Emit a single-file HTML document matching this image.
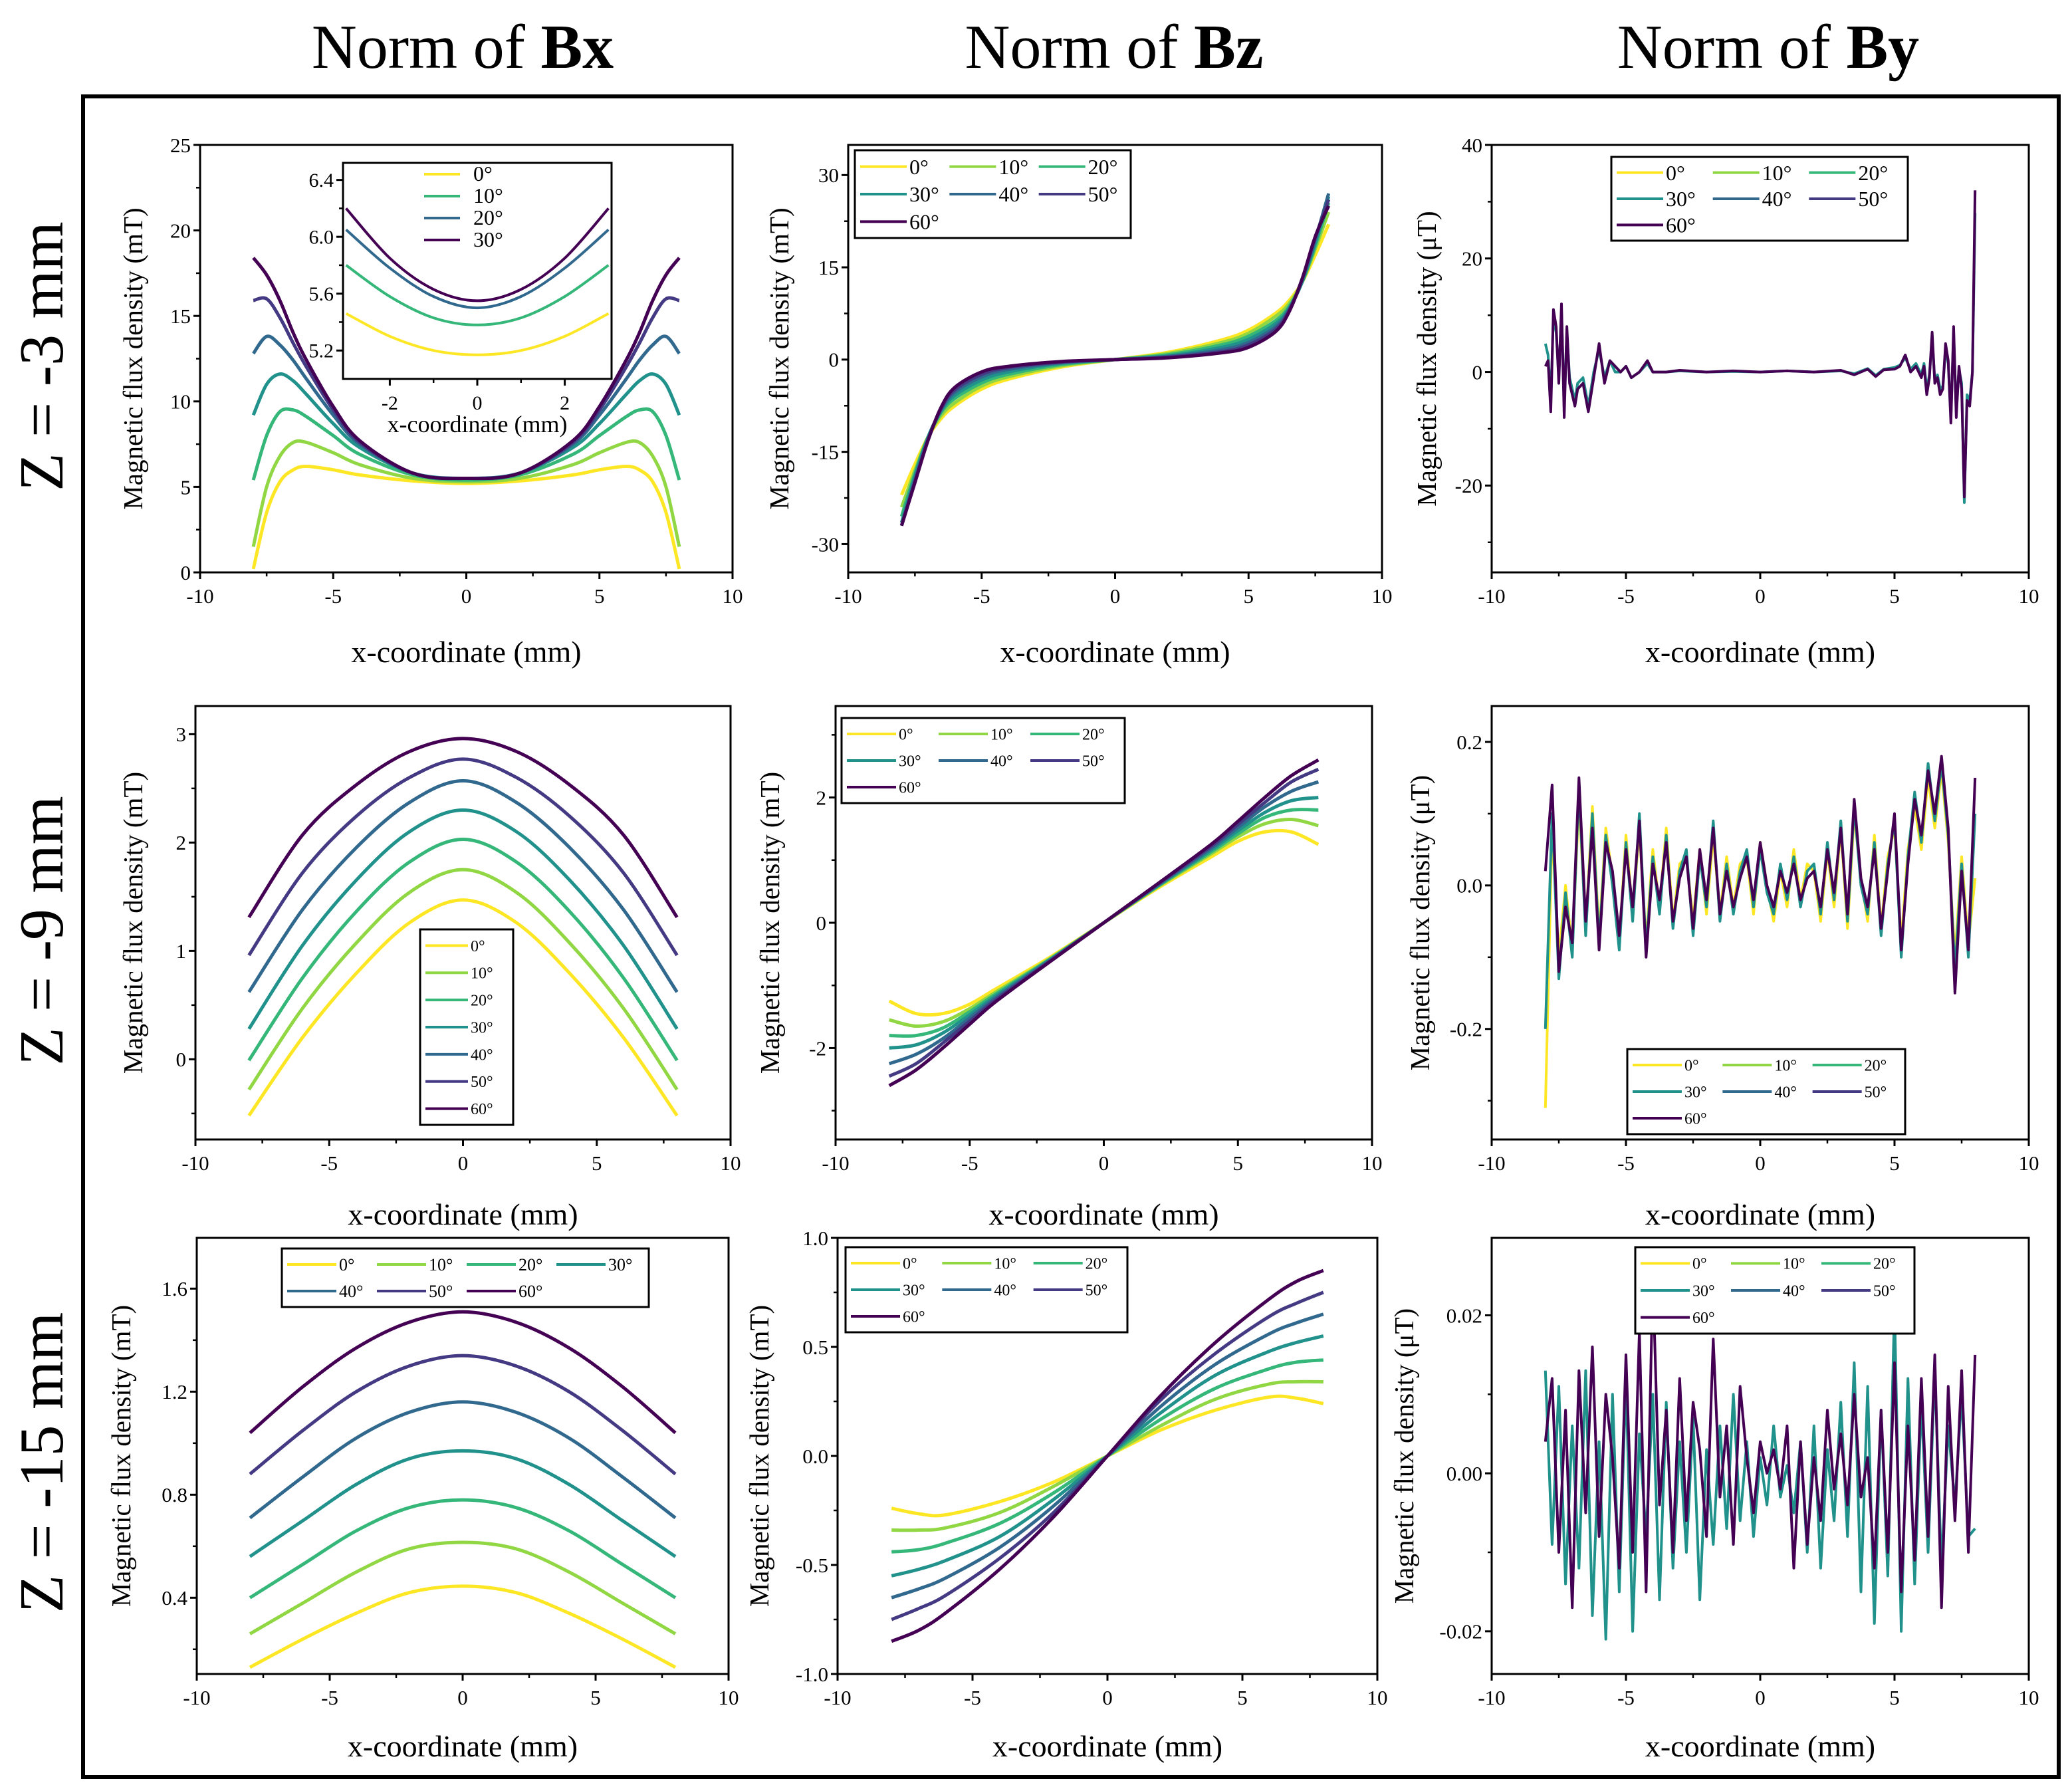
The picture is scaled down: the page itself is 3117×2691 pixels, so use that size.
<!DOCTYPE html>
<html><head><meta charset="utf-8"><style>
html,body{margin:0;padding:0;background:#fff;}
svg{display:block;}
text{font-family:"Liberation Serif",serif;fill:#000;}
</style></head><body>
<svg id="fig" xmlns="http://www.w3.org/2000/svg" width="3117" height="2691" viewBox="0 0 3117 2691">
<rect x="0" y="0" width="3117" height="2691" fill="#fff"/>
<text x="696" y="102" font-size="94" text-anchor="middle">Norm of <tspan font-weight="bold">Bx</tspan></text>
<text x="1676" y="102" font-size="94" text-anchor="middle">Norm of <tspan font-weight="bold">Bz</tspan></text>
<text x="2660" y="102" font-size="94" text-anchor="middle">Norm of <tspan font-weight="bold">By</tspan></text>
<rect x="125" y="145" width="2972" height="2528" fill="none" stroke="#000" stroke-width="6"/>
<text transform="translate(94,536) rotate(-90)" font-size="94" text-anchor="middle">Z = -3 mm</text>
<text transform="translate(94,1400) rotate(-90)" font-size="94" text-anchor="middle">Z = -9 mm</text>
<text transform="translate(94,2200) rotate(-90)" font-size="94" text-anchor="middle">Z = -15 mm</text>
<g id="plots"></g>
</svg>
<script>
const angles = ["0°","10°","20°","30°","40°","50°","60°"];
const colors = ["#fde725","#90d743","#35b779","#21918c","#31688e","#443983","#440154"];
const xTickVals = [-10,-5,0,5,10];

// Row 1, Bx
const bx1X = [-8,-7.5,-7,-6.5,-6,-5,-4,-2,0,2,4,5,6,6.5,7,7.5,8];
const bx1_0  = [0.2,3.5,5.3,6.0,6.2,6.0,5.7,5.35,5.2,5.35,5.7,6.0,6.2,6.0,5.3,3.5,0.2];
const bx1_10 = [1.5,5.0,6.8,7.6,7.6,7.0,6.3,5.5,5.3,5.5,6.3,7.0,7.6,7.6,6.8,5.0,1.5];
const bx1_20 = [5.4,8.0,9.4,9.5,9.1,8.0,6.9,5.7,5.4,5.7,6.9,8.0,9.1,9.5,9.4,8.0,5.4];
const bx1_30 = [9.2,11.0,11.6,11.2,10.4,8.7,7.3,5.8,5.5,5.8,7.3,8.7,10.4,11.2,11.6,11.0,9.2];
const bx1_40 = [12.8,13.8,13.3,12.4,11.3,9.2,7.5,5.8,5.5,5.8,7.5,9.2,11.3,12.4,13.3,13.8,12.8];
const bx1_50 = [15.9,16.0,14.9,13.4,12.0,9.5,7.6,5.8,5.5,5.8,7.6,9.5,12.0,13.4,14.9,16.0,15.9];
const bx1_60 = [18.4,17.4,15.9,14.0,12.4,9.7,7.7,5.8,5.5,5.8,7.7,9.7,12.4,14.0,15.9,17.4,18.4];
// inset
const insetX = [-3,-2,-1,0,1,2,3];
const inset_0  = [5.46,5.3,5.2,5.17,5.2,5.3,5.46];
const inset_10 = [5.8,5.58,5.43,5.38,5.43,5.58,5.8];
const inset_20 = [6.05,5.78,5.58,5.5,5.58,5.78,6.05];
const inset_30 = [6.2,5.85,5.63,5.55,5.63,5.85,6.2];
const insetLabels = ["0°","10°","20°","30°"];
const insetColors = ["#fde725","#35b779","#31688e","#440154"];

// Row 1, Bz
const bz1X = [-8,-7.5,-7,-6.5,-6,-5,-4,-2,0,2,4,5,6,6.5,7,7.5,8];
const bz1_0  = [-22,-17,-12.5,-9.5,-7.5,-4.8,-3.2,-1.2,0,1.2,3.2,4.8,7.5,9.5,12.5,17,22];
const bz1_10 = [-24,-18,-12.5,-9,-7,-4.3,-2.8,-1.0,0,1.0,2.8,4.3,7,9,12.5,18,24];
const bz1_20 = [-25.5,-18.5,-12.5,-8.5,-6.3,-3.8,-2.4,-0.8,0,0.8,2.4,3.8,6.3,8.5,12.5,18.5,25.5];
const bz1_30 = [-26.5,-19,-12.5,-8.2,-5.8,-3.3,-2.0,-0.6,0,0.6,2.0,3.3,5.8,8.2,12.5,19,26.5];
const bz1_40 = [-27,-19.5,-12.8,-8,-5.3,-2.8,-1.6,-0.5,0,0.5,1.6,2.8,5.3,8,12.8,19.5,27];
const bz1_50 = [-27,-19.8,-13,-7.8,-4.9,-2.4,-1.3,-0.4,0,0.4,1.3,2.4,4.9,7.8,13,19.8,26];
const bz1_60 = [-27,-20,-13,-7.6,-4.5,-2.0,-1.1,-0.3,0,0.3,1.1,2.0,4.5,7.6,13,20,25];

// Row 1, By (noise)
const by1X = [-8,-7.9,-7.8,-7.7,-7.6,-7.5,-7.4,-7.3,-7.2,-7.1,-7,-6.9,-6.8,-6.6,-6.4,-6.2,-6,-5.8,-5.6,-5.4,-5.2,-5,-4.8,-4.5,-4.2,-4,-3.5,-3,-2,-1,0,1,2,3,3.5,4,4.3,4.6,5,5.2,5.4,5.6,5.8,6,6.1,6.2,6.3,6.4,6.5,6.6,6.7,6.8,6.9,7,7.1,7.2,7.3,7.4,7.5,7.6,7.7,7.8,7.9,8];
const by1_60 = [1,2,-7,11,8,-2,12,-8,8,-2,-4,-6,-3,-2,-7,-1,5,-2,2,1,0,1,-1,0,2,0,0,0.3,0,0.2,0,0.2,0,0.3,-0.5,0.5,-0.8,0.4,0.5,1,3,0,1,-1,1,-4,-1,7,-2,-1,-4,-3,5,2,-9,8,-8,1,-3,-22,-5,-6,0,32];
const by1_30 = [5,3,-5,10,7,-1,11,-6,7,-1,-3,-5,-2,-1,-6,0,4,-1,2,0,0,1,-1,0,1.5,0,0,0.2,0,0.1,0,0.2,0,0.2,-0.3,0.6,-0.6,0.5,0.8,1.2,2.5,0.5,1.5,-0.5,1.5,-3,-0.5,6,-1.5,-0.5,-3,-2.5,4,1.5,-8,7,-7,0.5,-2,-23,-4,-5,0,28];

// Row 2, Bx
const bx2X = [-8,-6,-4,-2,0,2,4,6,8];
const bx2_0  = [-0.52,0.2,0.79,1.26,1.47,1.26,0.79,0.2,-0.52];
const bx2_10 = [-0.28,0.47,1.07,1.54,1.75,1.54,1.07,0.47,-0.28];
const bx2_20 = [-0.01,0.75,1.36,1.82,2.03,1.82,1.36,0.75,-0.01];
const bx2_30 = [0.28,1.05,1.65,2.1,2.3,2.1,1.65,1.05,0.28];
const bx2_40 = [0.62,1.38,1.95,2.37,2.57,2.37,1.95,1.38,0.62];
const bx2_50 = [0.96,1.72,2.24,2.6,2.77,2.6,2.24,1.72,0.96];
const bx2_60 = [1.31,2.07,2.53,2.84,2.96,2.84,2.53,2.07,1.31];

// Row 2, Bz
const bz2X = [-8,-7,-6,-5,-4,-2,0,2,4,5,6,7,8];
const bz2_0  = [-1.25,-1.45,-1.45,-1.3,-1.05,-0.55,0,0.55,1.05,1.3,1.45,1.45,1.25];
const bz2_10 = [-1.55,-1.65,-1.58,-1.37,-1.1,-0.57,0,0.57,1.1,1.37,1.58,1.65,1.55];
const bz2_20 = [-1.8,-1.8,-1.68,-1.42,-1.13,-0.58,0,0.58,1.13,1.42,1.68,1.8,1.8];
const bz2_30 = [-2.0,-1.95,-1.76,-1.47,-1.16,-0.59,0,0.59,1.16,1.47,1.76,1.95,2.0];
const bz2_40 = [-2.25,-2.1,-1.85,-1.52,-1.19,-0.6,0,0.6,1.19,1.52,1.85,2.1,2.25];
const bz2_50 = [-2.45,-2.25,-1.92,-1.57,-1.22,-0.61,0,0.61,1.22,1.57,1.92,2.25,2.45];
const bz2_60 = [-2.6,-2.35,-2.0,-1.62,-1.25,-0.62,0,0.62,1.25,1.62,2.0,2.35,2.6];

// Row 2, By (noise), x from -8 step 0.25
const by2_60 = [0.02,0.14,-0.12,-0.03,-0.08,0.15,-0.05,0.08,-0.09,0.06,0.02,-0.07,0.05,-0.03,0.09,-0.1,0.03,-0.02,0.06,-0.05,0.01,0.04,-0.06,0.05,-0.02,0.08,-0.04,0.02,-0.03,0.01,0.04,-0.02,0.06,0,-0.03,0.02,-0.01,0.03,-0.02,0.01,0.02,-0.03,0.05,-0.01,0.08,-0.04,0.12,0.01,-0.03,0.05,-0.06,0.02,0.1,-0.09,0.03,0.12,0.07,0.16,0.1,0.18,0.08,-0.15,0.02,-0.09,0.15];
const by2_30 = [-0.2,0.1,-0.13,-0.01,-0.1,0.14,-0.07,0.1,-0.08,0.07,0,-0.09,0.06,-0.05,0.1,-0.09,0.04,-0.04,0.07,-0.06,0.02,0.05,-0.07,0.04,-0.03,0.09,-0.05,0.03,-0.04,0.02,0.05,-0.03,0.05,-0.01,-0.04,0.03,-0.02,0.04,-0.03,0.02,0.03,-0.04,0.06,-0.02,0.09,-0.05,0.11,0,-0.04,0.06,-0.07,0.03,0.09,-0.1,0.04,0.13,0.06,0.17,0.09,0.17,0.07,-0.12,0.03,-0.1,0.1];
const by2_0  = [-0.31,0.08,-0.1,0,-0.09,0.12,-0.06,0.11,-0.07,0.08,0.01,-0.08,0.07,-0.04,0.08,-0.08,0.05,-0.03,0.08,-0.05,0.03,0.04,-0.05,0.05,-0.04,0.07,-0.04,0.04,-0.03,0.03,0.04,-0.04,0.06,0,-0.05,0.02,-0.03,0.05,-0.02,0.03,0.02,-0.05,0.05,-0.03,0.08,-0.06,0.1,0.01,-0.05,0.07,-0.06,0.04,0.08,-0.08,0.05,0.11,0.05,0.15,0.08,0.16,0.06,-0.1,0.04,-0.08,0.01];

// Row 3, Bx
const bx3X = [-8,-6,-4,-2,0,2,4,6,8];
const bx3_0  = [0.13,0.24,0.34,0.42,0.445,0.42,0.34,0.24,0.13];
const bx3_10 = [0.26,0.38,0.5,0.59,0.615,0.59,0.5,0.38,0.26];
const bx3_20 = [0.4,0.53,0.66,0.75,0.78,0.75,0.66,0.53,0.4];
const bx3_30 = [0.56,0.7,0.84,0.94,0.97,0.94,0.84,0.7,0.56];
const bx3_40 = [0.71,0.87,1.02,1.12,1.16,1.12,1.02,0.87,0.71];
const bx3_50 = [0.88,1.05,1.2,1.3,1.34,1.3,1.2,1.05,0.88];
const bx3_60 = [1.04,1.22,1.37,1.47,1.51,1.47,1.37,1.22,1.04];

// Row 3, Bz
const bz3X = [-8,-7,-6,-4,-2,0,2,4,6,7,8];
const bz3_0  = [-0.24,-0.265,-0.27,-0.21,-0.12,0,0.12,0.21,0.27,0.265,0.24];
const bz3_10 = [-0.34,-0.34,-0.33,-0.26,-0.14,0,0.14,0.26,0.33,0.34,0.34];
const bz3_20 = [-0.44,-0.43,-0.4,-0.31,-0.17,0,0.17,0.31,0.4,0.43,0.44];
const bz3_30 = [-0.55,-0.52,-0.48,-0.37,-0.2,0,0.2,0.37,0.48,0.52,0.55];
const bz3_40 = [-0.65,-0.61,-0.56,-0.42,-0.23,0,0.23,0.42,0.56,0.61,0.65];
const bz3_50 = [-0.75,-0.7,-0.64,-0.47,-0.26,0,0.26,0.47,0.64,0.7,0.75];
const bz3_60 = [-0.85,-0.8,-0.72,-0.52,-0.28,0,0.28,0.52,0.72,0.8,0.85];

// Row 3, By (noise), x from -8 step 0.25
const by3_60 = [0.004,0.012,-0.01,0.008,-0.017,0.013,-0.005,0.016,-0.008,0.01,0.002,-0.012,0.015,-0.01,0.018,-0.015,0.025,-0.004,0.008,-0.01,0.012,-0.006,0.009,0.003,-0.008,0.017,-0.003,0.006,-0.009,0.011,0.002,-0.005,0.004,0,0.003,-0.002,0.006,-0.012,0.004,-0.009,0.002,-0.006,0.008,-0.002,0.005,-0.004,0.01,-0.003,0.002,-0.012,0.008,-0.01,0.014,-0.015,0.006,-0.011,0.012,-0.008,0.015,-0.017,0.011,-0.006,0.013,-0.01,0.015];
const by3_30 = [0.013,-0.009,0.011,-0.014,0.006,-0.012,0.013,-0.018,0.004,-0.021,0.01,-0.015,0.012,-0.02,0.005,-0.008,0.01,-0.016,0.009,-0.012,0.004,-0.01,0.007,-0.016,0.003,-0.009,0.006,-0.007,0.01,-0.006,0.004,-0.008,0.002,-0.004,0.006,-0.003,0.001,-0.005,0.004,-0.01,0.006,-0.012,0.003,-0.006,0.009,-0.008,0.014,-0.015,0.011,-0.019,0.008,-0.013,0.021,-0.02,0.012,-0.014,0.009,-0.01,0.013,-0.012,0.006,-0.004,0.01,-0.008,-0.007];

const NS = "http://www.w3.org/2000/svg";
const root = document.getElementById('plots');
function mk(tag, attrs, parent){
  const e = document.createElementNS(NS, tag);
  for (const k in attrs) e.setAttribute(k, attrs[k]);
  (parent||root).appendChild(e);
  return e;
}
function smoothPath(pts){
  let d = "M" + pts[0][0].toFixed(1) + "," + pts[0][1].toFixed(1);
  for (let i=0;i<pts.length-1;i++){
    const p0 = pts[i-1]||pts[i], p1 = pts[i], p2 = pts[i+1], p3 = pts[i+2]||pts[i+1];
    const c1x = p1[0]+(p2[0]-p0[0])/6, c1y = p1[1]+(p2[1]-p0[1])/6;
    const c2x = p2[0]-(p3[0]-p1[0])/6, c2y = p2[1]-(p3[1]-p1[1])/6;
    d += " C"+c1x.toFixed(1)+","+c1y.toFixed(1)+" "+c2x.toFixed(1)+","+c2y.toFixed(1)+" "+p2[0].toFixed(1)+","+p2[1].toFixed(1);
  }
  return d;
}
function noiseX(n){ const a=[]; for(let i=0;i<n;i++) a.push(-8+0.25*i); return a; }

function panel(p){
  const g = mk('g', {});
  
  
  const sx = v => p.L + (v - p.xmin)/(p.xmax - p.xmin)*(p.R - p.L);
  const sy = v => p.B - (v - p.ymin)/(p.ymax - p.ymin)*(p.B - p.T);
  p.series.forEach((s, i) => {
    const pts = s.x.map((xv, j) => [sx(xv), sy(s.y[j])]);
    const path = mk('path', {d: p.smooth ? smoothPath(pts) : "M" + pts.map(q=>q[0].toFixed(1)+","+q[1].toFixed(1)).join(" L"), fill:'none', stroke:s.c, 'stroke-width': p.lw||5, 'stroke-linejoin':'round'}, g);
    
    
  });
  const fr = mk('rect', {x:p.L, y:p.T, width:p.R-p.L, height:p.B-p.T, fill:'none', stroke:'#000', 'stroke-width':3}, g);
  
  
  const fs = p.fs || 31;
  const xt = p.xticks || xTickVals;
  for (let k=0;k<xt.length;k++){
    const X = sx(xt[k]);
    mk('line', {x1:X, y1:p.B, x2:X, y2:p.B+10, stroke:'#000','stroke-width':3}, g);
    const t = mk('text', {x:X, y:p.B+46, 'font-size':fs, 'text-anchor':'middle'}, g);
    t.textContent = xt[k];
    
    
    if (k < xt.length-1){
      const m = sx((xt[k]+xt[k+1])/2);
      mk('line', {x1:m, y1:p.B, x2:m, y2:p.B+6, stroke:'#000','stroke-width':2.5}, g);
    }
  }
  const yt = p.yticks;
  for (let k=0;k<yt.length;k++){
    const Y = sy(yt[k]);
    mk('line', {x1:p.L-10, y1:Y, x2:p.L, y2:Y, stroke:'#000','stroke-width':3}, g);
    const t = mk('text', {x:p.L-14, y:Y+fs*0.35, 'font-size':fs, 'text-anchor':'end'}, g);
    t.textContent = p.ylabels[k];
    
    
  }
  (p.yminor||[]).forEach(v => {
    const Y = sy(v);
    if (Y>=p.T-1 && Y<=p.B+1) mk('line', {x1:p.L-6, y1:Y, x2:p.L, y2:Y, stroke:'#000','stroke-width':2.5}, g);
  });
  if (p.xtitle){
    const t = mk('text', {x:(p.L+p.R)/2, y:p.xtitleY, 'font-size':p.xtfs||46, 'text-anchor':'middle'}, g);
    t.textContent = p.xtitle;
    
    
  }
  if (p.ytitle){
    const t = mk('text', {transform:'translate('+p.ytitleX+','+(p.T+p.B)/2+') rotate(-90)', 'font-size':41, 'text-anchor':'middle'}, g);
    t.textContent = p.ytitle;
    
    
  }
  return g;
}
function legend(name, box, labels, cols, ncol, fs, lineLen){
  const g = mk('g', {});
  
  
  mk('rect', {x:box[0], y:box[1], width:box[2], height:box[3], fill:'#fff', stroke:'#000', 'stroke-width':3}, g);
  const nrow = Math.ceil(labels.length/ncol);
  const cw = (box[2]-12)/ncol, rh = (box[3]-8)/nrow;
  labels.forEach((lab, i) => {
    const c = i % ncol, rr = Math.floor(i/ncol);
    const x0 = box[0]+8+c*cw, yc = box[1]+4+rh*(rr+0.5);
    mk('line', {x1:x0, y1:yc, x2:x0+lineLen, y2:yc, stroke:cols[i], 'stroke-width':4}, g);
    const t = mk('text', {x:x0+lineLen+4, y:yc+fs*0.35, 'font-size':fs}, g);
    t.textContent = lab;
    
    
  });
}
function ser(xs, arrs){ return arrs.map((a,i)=>({x:xs, y:a, c:colors[i], label:angles[i]})); }

const YT = 'Magnetic flux density (mT)', YTu = 'Magnetic flux density (μT)', XT = 'x-coordinate (mm)';
const COL = [[301,1102],[1276,2079],[2244,3052]];
const COL2 = [[294,1099],[1257,2064],[2244,3052]];
const COL3 = [[296,1096],[1260,2072],[2244,3052]];
const R1=[218,861], R2=[1062,1714], R3=[1862,2518];

panel({name:'bx-z3', L:COL[0][0], R:COL[0][1], T:R1[0], B:R1[1], xmin:-10,xmax:10,ymin:0,ymax:25,
  yticks:[0,5,10,15,20,25], ylabels:['0','5','10','15','20','25'], yminor:[2.5,7.5,12.5,17.5,22.5], smooth:true,
  series:ser(bx1X,[bx1_0,bx1_10,bx1_20,bx1_30,bx1_40,bx1_50,bx1_60]), xtitle:XT, xtitleY:996, ytitle:YT, ytitleX:214});
(function(){
  const L=516,R=920,T=245,B=570;
  mk('rect',{x:L,y:T,width:R-L,height:B-T,fill:'#fff'});
  panel({name:'bx-z3-inset', L:L,R:R,T:T,B:B, xmin:-3.07,xmax:3.07,ymin:5.0,ymax:6.52, xticks:[-2,0,2],
    yticks:[5.2,5.6,6.0,6.4], ylabels:['5.2','5.6','6.0','6.4'], yminor:[5.4,5.8,6.2], smooth:true, fs:30, lw:4,
    series:[inset_0,inset_10,inset_20,inset_30].map((a,i)=>({x:insetX,y:a,c:insetColors[i],label:insetLabels[i]})),
    xtitle:XT, xtitleY:650, xtfs:36});
  const lg = mk('g',{});
  
  
  insetLabels.forEach((lab,i)=>{
    const y = 262 + i*33;
    mk('line',{x1:638,y1:y,x2:692,y2:y,stroke:insetColors[i],'stroke-width':4},lg);
    const t = mk('text',{x:712,y:y+10,'font-size':32},lg);
    t.textContent = lab;
    
    
  });
})();
panel({name:'bz-z3', L:COL[1][0], R:COL[1][1], T:R1[0], B:R1[1], xmin:-10,xmax:10,ymin:-34.6,ymax:34.9,
  yticks:[-30,-15,0,15,30], ylabels:['-30','-15','0','15','30'], yminor:[-22.5,-7.5,7.5,22.5], smooth:true,
  series:ser(bz1X,[bz1_0,bz1_10,bz1_20,bz1_30,bz1_40,bz1_50,bz1_60]), xtitle:XT, xtitleY:996, ytitle:YT, ytitleX:1186});
legend('bz-z3-legend',[1286,226,415,132],angles,colors,3,32,70);
panel({name:'by-z3', L:COL[2][0], R:COL[2][1], T:R1[0], B:R1[1], xmin:-10,xmax:10,ymin:-35.3,ymax:40,
  yticks:[-20,0,20,40], ylabels:['-20','0','20','40'], yminor:[-30,-10,10,30], smooth:false, lw:4,
  series:[{x:by1X,y:by1_30,c:colors[3],label:'30°'},{x:by1X,y:by1_60,c:colors[6],label:'60°'}],
  xtitle:XT, xtitleY:996, ytitle:YTu, ytitleX:2160});
legend('by-z3-legend',[2424,236,446,126],angles,colors,3,32,70);

panel({name:'bx-z9', L:COL2[0][0], R:COL2[0][1], T:R2[0], B:R2[1], xmin:-10,xmax:10,ymin:-0.74,ymax:3.26,
  yticks:[0,1,2,3], ylabels:['0','1','2','3'], yminor:[-0.5,0.5,1.5,2.5], smooth:true,
  series:ser(bx2X,[bx2_0,bx2_10,bx2_20,bx2_30,bx2_40,bx2_50,bx2_60]), xtitle:XT, xtitleY:1842, ytitle:YT, ytitleX:214});
legend('bx-z9-legend',[632,1398,140,294],angles,colors,1,24,64);
panel({name:'bz-z9', L:COL2[1][0], R:COL2[1][1], T:R2[0], B:R2[1], xmin:-10,xmax:10,ymin:-3.46,ymax:3.46,
  yticks:[-2,0,2], ylabels:['-2','0','2'], yminor:[-3,-1,1,3], smooth:true,
  series:ser(bz2X,[bz2_0,bz2_10,bz2_20,bz2_30,bz2_40,bz2_50,bz2_60]), xtitle:XT, xtitleY:1842, ytitle:YT, ytitleX:1172});
legend('bz-z9-legend',[1266,1080,426,128],angles,colors,3,24,74);
panel({name:'by-z9', L:COL2[2][0], R:COL2[2][1], T:R2[0], B:R2[1], xmin:-10,xmax:10,ymin:-0.354,ymax:0.25,
  yticks:[-0.2,0,0.2], ylabels:['-0.2','0.0','0.2'], yminor:[-0.3,-0.1,0.1], smooth:false, lw:4,
  series:[{x:noiseX(by2_0.length),y:by2_0,c:colors[0],label:'0°'},{x:noiseX(by2_30.length),y:by2_30,c:colors[3],label:'30°'},{x:noiseX(by2_60.length),y:by2_60,c:colors[6],label:'60°'}],
  xtitle:XT, xtitleY:1842, ytitle:YTu, ytitleX:2150});
legend('by-z9-legend',[2448,1578,418,128],angles,colors,3,24,74);

panel({name:'bx-z15', L:COL3[0][0], R:COL3[0][1], T:R3[0], B:R3[1], xmin:-10,xmax:10,ymin:0.104,ymax:1.797,
  yticks:[0.4,0.8,1.2,1.6], ylabels:['0.4','0.8','1.2','1.6'], yminor:[0.2,0.6,1.0,1.4], smooth:true,
  series:ser(bx3X,[bx3_0,bx3_10,bx3_20,bx3_30,bx3_40,bx3_50,bx3_60]), xtitle:XT, xtitleY:2642, ytitle:YT, ytitleX:196});
legend('bx-z15-legend',[424,1878,552,88],angles,colors,4,26,74);
panel({name:'bz-z15', L:COL3[1][0], R:COL3[1][1], T:R3[0], B:R3[1], xmin:-10,xmax:10,ymin:-1,ymax:1,
  yticks:[-1,-0.5,0,0.5,1], ylabels:['-1.0','-0.5','0.0','0.5','1.0'], yminor:[-0.75,-0.25,0.25,0.75], smooth:true,
  series:ser(bz3X,[bz3_0,bz3_10,bz3_20,bz3_30,bz3_40,bz3_50,bz3_60]), xtitle:XT, xtitleY:2642, ytitle:YT, ytitleX:1156});
legend('bz-z15-legend',[1272,1876,424,128],angles,colors,3,24,74);
panel({name:'by-z15', L:COL3[2][0], R:COL3[2][1], T:R3[0], B:R3[1], xmin:-10,xmax:10,ymin:-0.0254,ymax:0.0298,
  yticks:[-0.02,0,0.02], ylabels:['-0.02','0.00','0.02'], yminor:[-0.01,0.01], smooth:false, lw:4,
  series:[{x:noiseX(by3_30.length),y:by3_30,c:colors[3],label:'30°'},{x:noiseX(by3_60.length),y:by3_60,c:colors[6],label:'60°'}],
  xtitle:XT, xtitleY:2642, ytitle:YTu, ytitleX:2126});
legend('by-z15-legend',[2460,1876,420,130],angles,colors,3,24,74);
</script>
</body></html>
